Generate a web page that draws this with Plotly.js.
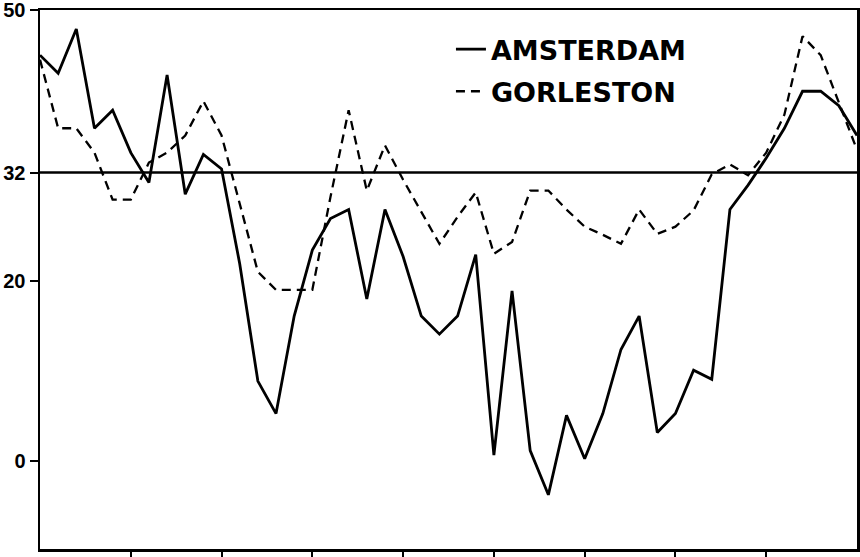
<!DOCTYPE html>
<html>
<head>
<meta charset="utf-8">
<script src="https://cdn.plot.ly/plotly-3.0.1.min.js"></script>
<style>
html,body{margin:0;padding:0;background:#fff;}
#chart{width:860px;height:557px;}
</style>
</head>
<body>
<div id="chart"></div>
<script>
// Period index (46 observations, tick every 5)
const periods = Array.from({length: 46}, (_, i) => i);

const amsterdam = [
  45.0, 43.0, 47.9, 36.9, 38.9, 34.2, 30.9, 42.8, 29.6, 34.0,
  32.4, 21.9, 8.9, 5.3, 16.1, 23.4, 26.9, 27.9, 18.0, 27.9,
  22.7, 16.1, 14.1, 16.1, 22.9, 0.7, 18.9, 1.2, -3.7, 5.1,
  0.3, 5.3, 12.4, 16.1, 3.2, 5.3, 10.1, 9.1, 27.9, 30.6,
  33.6, 36.9, 41.0, 41.0, 39.4, 36.1
];

const gorleston = [
  44.5, 36.9, 36.9, 34.2, 29.0, 29.0, 33.1, 34.2, 36.1, 39.9,
  36.1, 28.7, 21.0, 19.0, 19.0, 19.0, 29.3, 38.9, 30.0, 35.0,
  31.2, 27.6, 24.1, 27.1, 29.8, 23.0, 24.3, 30.0, 30.0, 27.9,
  26.0, 25.1, 24.1, 27.9, 25.2, 26.0, 27.8, 31.8, 32.9, 31.7,
  34.2, 38.4, 47.1, 45.0, 39.7, 34.5
];

const referenceLevel = 32;
const yTickVals = [0, 20, 32, 50];
const yTickText = ['0', '20', '32', '50'];
const xTickVals = [5, 10, 15, 20, 25, 30, 35, 40];
const seriesNames = ['AMSTERDAM', 'GORLESTON'];

const LEGEND_FONT = 'DejaVu Sans, Liberation Sans, Arial, sans-serif';
const TICK_FONT = 'Liberation Sans, Arial, sans-serif';

const traces = [
  {
    x: periods, y: amsterdam, name: seriesNames[0], type: 'scatter', mode: 'lines',
    legendgroup: 'a',
    line: {color: '#000', width: 2.8, dash: 'solid'}
  },
  {
    x: periods, y: gorleston, name: seriesNames[1], type: 'scatter', mode: 'lines',
    legendgroup: 'b',
    line: {color: '#000', width: 2.3, dash: '9px,6px'}
  }
];

const layout = {
  width: 860, height: 557,
  margin: {l: 40, r: 3, t: 10, b: 8, pad: 0},
  paper_bgcolor: '#fff', plot_bgcolor: '#fff',
  font: {family: LEGEND_FONT, color: '#000', size: 20, weight: 'bold'},
  showlegend: true,
  legend: {
    x: 0.503, xanchor: 'left', y: 0.972, yanchor: 'top',
    bgcolor: 'rgba(0,0,0,0)', borderwidth: 0,
    font: {family: LEGEND_FONT, size: 27, color: '#000', weight: 'bold'},
    tracegroupgap: 4
  },
  xaxis: {
    range: [0, 45], showgrid: false, zeroline: false,
    showline: true, linecolor: '#000', linewidth: 2.5, mirror: true,
    tickmode: 'array', tickvals: xTickVals, showticklabels: false,
    ticks: 'outside', ticklen: 6, tickwidth: 2, tickcolor: '#000'
  },
  yaxis: {
    range: [-9.7, 50], showgrid: false, zeroline: false,
    showline: true, linecolor: '#000', linewidth: 2.5, mirror: true,
    tickmode: 'array', tickvals: yTickVals, ticktext: yTickText,
    ticks: 'outside', ticklen: 8, tickwidth: 2, tickcolor: '#000',
    ticklabeloverflow: 'allow',
    tickfont: {family: TICK_FONT, size: 20, color: '#000', weight: 'bold'}
  },
  shapes: [
    {type: 'line', xref: 'paper', yref: 'y', x0: 0, x1: 1, y0: referenceLevel, y1: referenceLevel,
     line: {color: '#000', width: 2.5}}
  ]
};

Plotly.newPlot('chart', traces, layout, {displayModeBar: false, staticPlot: true});
</script>
</body>
</html>
